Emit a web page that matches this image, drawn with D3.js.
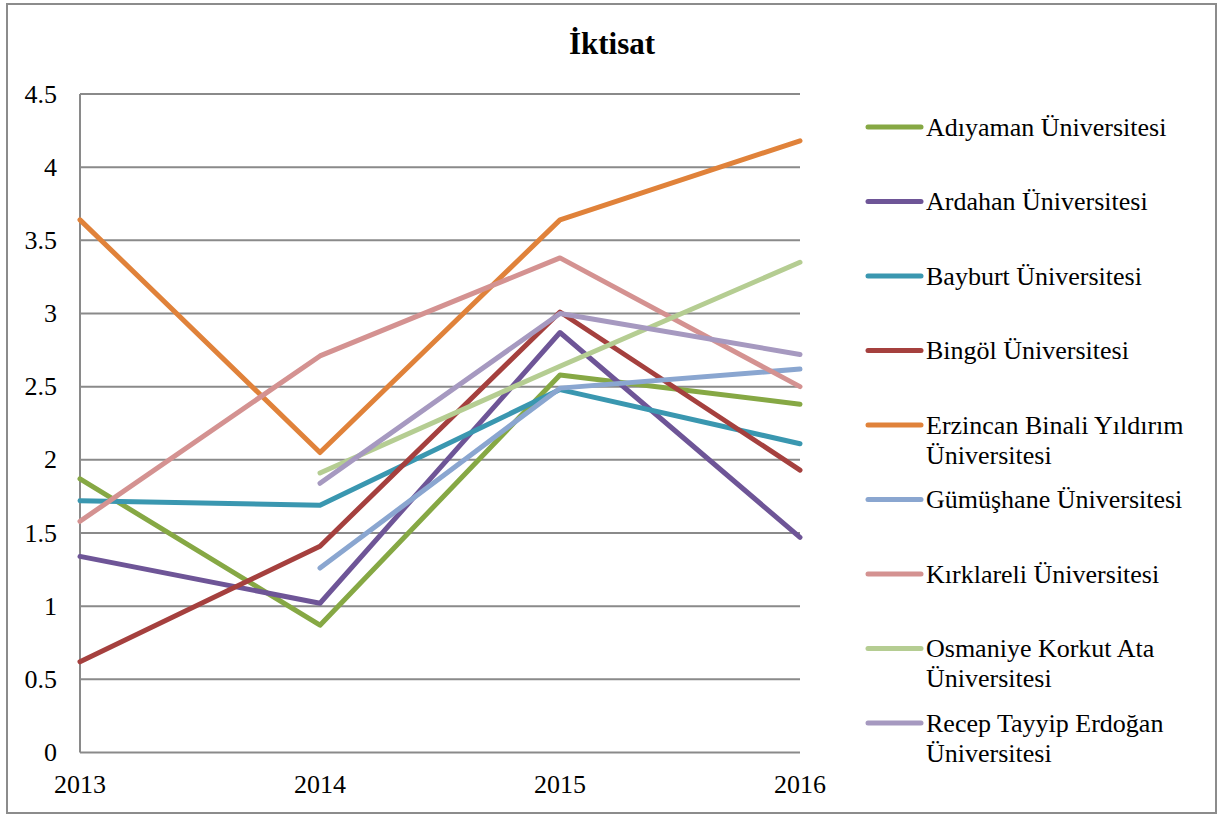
<!DOCTYPE html>
<html>
<head>
<meta charset="utf-8">
<script src="https://cdn.jsdelivr.net/npm/d3@7"></script>
<style>
  html, body { margin: 0; padding: 0; background: #fff; }
  svg { display: block; }
  svg text { font-family: 'Liberation Serif', 'Times New Roman', Tinos, 'DejaVu Serif', serif; }
</style>
</head>
<body>
<svg id="chart" width="1217" height="817"></svg>
<script>
const title = "İktisat";
const years = ["2013", "2014", "2015", "2016"];
const yTicks = [0, 0.5, 1, 1.5, 2, 2.5, 3, 3.5, 4, 4.5];
const yTickLabels = ["0", "0.5", "1", "1.5", "2", "2.5", "3", "3.5", "4", "4.5"];

const seriesNames = [
  "Adıyaman Üniversitesi",
  "Ardahan Üniversitesi",
  "Bayburt Üniversitesi",
  "Bingöl Üniversitesi",
  "Erzincan Binali Yıldırım Üniversitesi",
  "Gümüşhane Üniversitesi",
  "Kırklareli Üniversitesi",
  "Osmaniye Korkut Ata Üniversitesi",
  "Recep Tayyip Erdoğan Üniversitesi"
];
const legendLines = [
  ["Adıyaman Üniversitesi"],
  ["Ardahan Üniversitesi"],
  ["Bayburt Üniversitesi"],
  ["Bingöl Üniversitesi"],
  ["Erzincan Binali Yıldırım", "Üniversitesi"],
  ["Gümüşhane Üniversitesi"],
  ["Kırklareli Üniversitesi"],
  ["Osmaniye Korkut Ata", "Üniversitesi"],
  ["Recep Tayyip Erdoğan", "Üniversitesi"]
];

const adiyaman   = [1.87, 0.87, 2.58, 2.38];
const ardahan    = [1.34, 1.02, 2.87, 1.47];
const bayburt    = [1.72, 1.69, 2.48, 2.11];
const bingol     = [0.62, 1.41, 3.01, 1.93];
const erzincan   = [3.64, 2.05, 3.64, 4.18];
const gumushane  = [null, 1.26, 2.49, 2.62];
const kirklareli = [1.58, 2.71, 3.38, 2.50];
const osmaniye   = [null, 1.91, 2.64, 3.35];
const recep      = [null, 1.84, 3.00, 2.72];

const seriesValues = [adiyaman, ardahan, bayburt, bingol, erzincan, gumushane, kirklareli, osmaniye, recep];
const colors = ["#86A844", "#6E5597", "#3A97B0", "#A5403E", "#E0823A", "#8AA6D0", "#D49291", "#B5CD92", "#A699C0"];

const svg = d3.select("#chart");

// outer border
svg.append("rect")
  .attr("x", 7).attr("y", 4).attr("width", 1209).attr("height", 809)
  .attr("fill", "none").attr("stroke", "#8c8c8c").attr("stroke-width", 2);

const x = d3.scalePoint().domain(years).range([80, 800]);
const y = d3.scaleLinear().domain([0, 4.5]).range([752.5, 94]);

// gridlines
svg.append("g").selectAll("line").data(yTicks).join("line")
  .attr("x1", 80).attr("x2", 800)
  .attr("y1", d => y(d)).attr("y2", d => y(d))
  .attr("stroke", "#8a8a8a").attr("stroke-width", 2);

// y axis line
svg.append("line")
  .attr("x1", 80).attr("x2", 80)
  .attr("y1", y(0)).attr("y2", y(4.5))
  .attr("stroke", "#8a8a8a").attr("stroke-width", 2);

// y labels
svg.append("g").selectAll("text").data(yTicks).join("text")
  .attr("x", 57).attr("y", d => y(d)).attr("dy", "0.33em")
  .attr("text-anchor", "end")
  .attr("font-size", 26).attr("fill", "#000")
  .text((d, i) => yTickLabels[i]);

// x labels
svg.append("g").selectAll("text").data(years).join("text")
  .attr("x", d => x(d)).attr("y", 793)
  .attr("text-anchor", "middle")
  .attr("font-size", 26).attr("fill", "#000")
  .text(d => d);

// title
svg.append("text")
  .attr("x", 612).attr("y", 54)
  .attr("text-anchor", "middle")
  .attr("font-size", 31).attr("font-weight", "bold").attr("fill", "#000")
  .text(title);

// lines
const line = d3.line()
  .defined(d => d.v !== null)
  .x(d => x(d.year))
  .y(d => y(d.v));

svg.append("g").selectAll("path").data(seriesValues).join("path")
  .attr("d", vals => line(vals.map((v, i) => ({ year: years[i], v }))))
  .attr("fill", "none")
  .attr("stroke", (d, i) => colors[i])
  .attr("stroke-width", 5)
  .attr("stroke-linejoin", "round")
  .attr("stroke-linecap", "round");

// legend
const legendY = d3.scaleLinear().domain([0, 8]).range([127, 723]);
const lg = svg.append("g").selectAll("g").data(seriesNames).join("g")
  .attr("transform", (d, i) => `translate(0,${legendY(i)})`);
lg.append("line")
  .attr("x1", 868).attr("x2", 921).attr("y1", 0).attr("y2", 0)
  .attr("stroke", (d, i) => colors[i]).attr("stroke-width", 5)
  .attr("stroke-linecap", "round");
lg.each(function(d, i) {
  const t = d3.select(this).append("text")
    .attr("x", 926).attr("y", 0)
    .attr("font-size", 26).attr("fill", "#000");
  legendLines[i].forEach((s, j) => {
    t.append("tspan").attr("x", 926).attr("dy", j === 0 ? "0.33em" : 30).text(s);
  });
});
</script>
</body>
</html>
